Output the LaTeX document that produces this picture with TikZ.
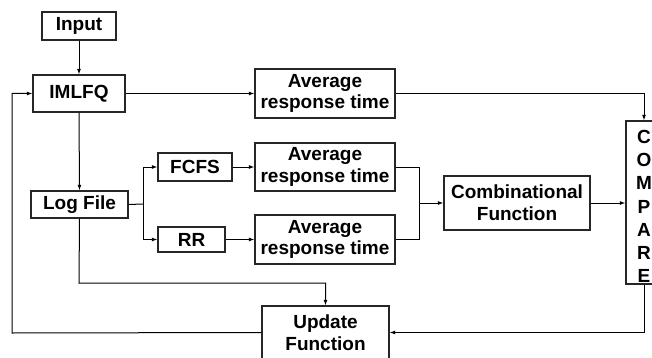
\documentclass[tikz,border=0pt]{standalone}
\usepackage{fontspec}
\setmainfont{Liberation Sans}
\usetikzlibrary{arrows.meta,calc}
\begin{document}
\begin{tikzpicture}[x=1pt,y=-1pt,
  box/.style={draw=black!85,line width=1.3pt,fill=white,inner sep=0pt,align=center,
    font=\fontsize{19}{21.7}\selectfont\bfseries},
  conn/.style={draw=black,line width=1pt},
  arr/.style={conn,-{Latex[length=5.5pt,width=4pt]}}]
\useasboundingbox (0,0) rectangle (652,358);
\node[box,minimum width=74pt,minimum height=28pt] (input) at (79,26) {Input};
\node[box,minimum width=92pt,minimum height=37pt] (imlfq) at (79,93.5) {IMLFQ};
\node[box,minimum width=140pt,minimum height=49pt] (avg1) at (325,93.5) {Average\\response time};
\node[box,minimum width=74pt,minimum height=28pt] (fcfs) at (195,167) {FCFS};
\node[box,minimum width=140pt,minimum height=48pt] (avg2) at (325,167) {Average\\response time};
\node[box,minimum width=97pt,minimum height=27pt] (log) at (79.5,204.5) {Log File};
\node[box,minimum width=67pt,minimum height=25pt] (rr) at (191.5,239.5) {RR};
\node[box,minimum width=140pt,minimum height=49pt] (avg3) at (325,239.5) {Average\\response time};
\node[box,minimum width=146pt,minimum height=54pt] (comb) at (517,203) {Combinational\\Function};
\node[box,minimum width=36pt,minimum height=163pt,
  label={[name=cmptext,align=center,yshift=-4pt,font=\fontsize{19}{23.2}\selectfont\bfseries]center:{C\\O\\M\\P\\A\\R\\E}}] (cmp) at (644,202.5) {};
\node[box,minimum width=127pt,minimum height=53pt] (upd) at (325.5,332.5) {Update\\Function};
\coordinate (br) at (143,204);
\coordinate (mg) at (419,203);
\coordinate (lb) at (79,283);
\coordinate (fb) at (12,333);
\draw[arr] (input.south) -- (imlfq.north);
\draw[arr] (imlfq.east) -- (avg1.west);
\draw[arr] (avg1.east) -| (cmp.north);
\draw[arr] (imlfq.south) -- (log.north);
\draw[conn] (log.east) -- (br);
\draw[arr] (br) |- (fcfs.west);
\draw[arr] (br) |- (rr.west);
\draw[arr] (fcfs.east) -- (avg2.west);
\draw[arr] (rr.east) -- (avg3.west);
\draw[conn] (avg2.east) -| (mg);
\draw[conn] (avg3.east) -| (mg);
\draw[arr] (mg) -- (comb.west);
\draw[arr] (comb.east) -- (comb.east -| cmp.west);
\draw[arr] (log.south) -- (lb) -| (upd.north);
\draw[arr] (cmp.south) |- (upd.east);
\draw[arr] (upd.west) -- (fb) |- (imlfq.west);
\end{tikzpicture}
\end{document}
